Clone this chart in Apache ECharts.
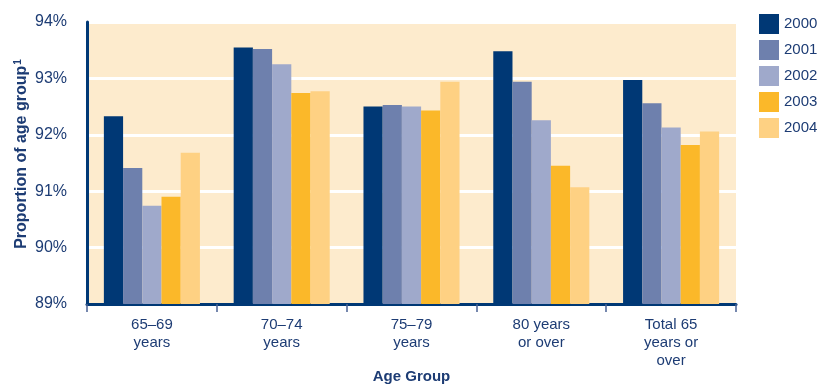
<!DOCTYPE html>
<html>
<head>
<meta charset="utf-8">
<script src="https://cdn.jsdelivr.net/npm/echarts@6/dist/echarts.min.js"></script>
<style>
  html, body { margin: 0; padding: 0; background: #ffffff; }
  #chart { width: 820px; height: 385px; }
</style>
</head>
<body>
<div id="chart"></div>
<script>
// Age groups along the x axis
const categories = ['65–69\nyears', '70–74\nyears', '75–79\nyears', '80 years\nor over', 'Total 65\nyears or\nover'];

// Proportion of each age group (%), one array per year
const years = ['2000', '2001', '2002', '2003', '2004'];
const v2000 = [92.33, 93.55, 92.50, 93.48, 92.97];
const v2001 = [91.41, 93.52, 92.53, 92.94, 92.56];
const v2002 = [90.74, 93.25, 92.50, 92.26, 92.13];
const v2003 = [90.90, 92.74, 92.43, 91.45, 91.82];
const v2004 = [91.68, 92.77, 92.94, 91.07, 92.06];
const values = [v2000, v2001, v2002, v2003, v2004];

const colors = ['#003875', '#6e80ad', '#9fa9cb', '#fbb829', '#fed183'];
const ink = '#1d3c74';
const font = '"Liberation Sans", Arial, sans-serif';

const chart = echarts.init(document.getElementById('chart'), null, { renderer: 'canvas' });

chart.setOption({
  animation: false,
  color: colors,
  grid: {
    left: 87, right: 84, top: 22, bottom: 81,
    outerBoundsMode: 'none',
    containLabel: false,
    show: true, backgroundColor: '#fdebcd', borderWidth: 0
  },
  legend: {
    orient: 'vertical',
    left: 759, top: 14,
    padding: 0,
    itemWidth: 20, itemHeight: 20, itemGap: 6,
    icon: 'rect',
    textStyle: { color: ink, fontFamily: font, fontSize: 15 },
    data: years
  },
  xAxis: {
    type: 'category',
    data: categories,
    axisLine: { lineStyle: { color: '#003875', width: 3 } },
    axisTick: { show: true, length: 8, lineStyle: { color: '#4a6294', width: 1.5 } },
    axisLabel: { color: ink, fontFamily: font, fontSize: 15, lineHeight: 18, margin: 12 },
    name: 'Age Group',
    nameLocation: 'middle',
    nameGap: 65,
    nameMoveOverlap: false,
    nameTextStyle: { color: ink, fontFamily: font, fontSize: 15, fontWeight: 'bold' }
  },
  yAxis: {
    type: 'value',
    min: 89, max: 94, interval: 1,
    axisLine: { show: true, lineStyle: { color: '#003875', width: 3 } },
    axisTick: { show: false },
    splitLine: { lineStyle: { color: '#ffffff', width: 3 } },
    axisLabel: { color: ink, fontFamily: font, fontSize: 16, margin: 20, formatter: '{value}%' },
    name: 'Proportion of age group{sup|1}',
    nameLocation: 'middle',
    nameRotate: 90,
    nameGap: 56,
    nameMoveOverlap: false,
    nameTextStyle: {
      color: ink, fontFamily: font, fontSize: 16, fontWeight: 'bold',
      padding: [0, 0, 0, 18],
      rich: {
        sup: { color: ink, fontFamily: font, fontSize: 10, fontWeight: 'bold', verticalAlign: 'top', padding: [0, 0, 8, 1] }
      }
    }
  },
  series: years.map((y, i) => ({
    name: y,
    type: 'bar',
    data: values[i],
    barGap: '0%',
    barCategoryGap: '26%',
    itemStyle: { color: colors[i] }
  }))
});
</script>
</body>
</html>
